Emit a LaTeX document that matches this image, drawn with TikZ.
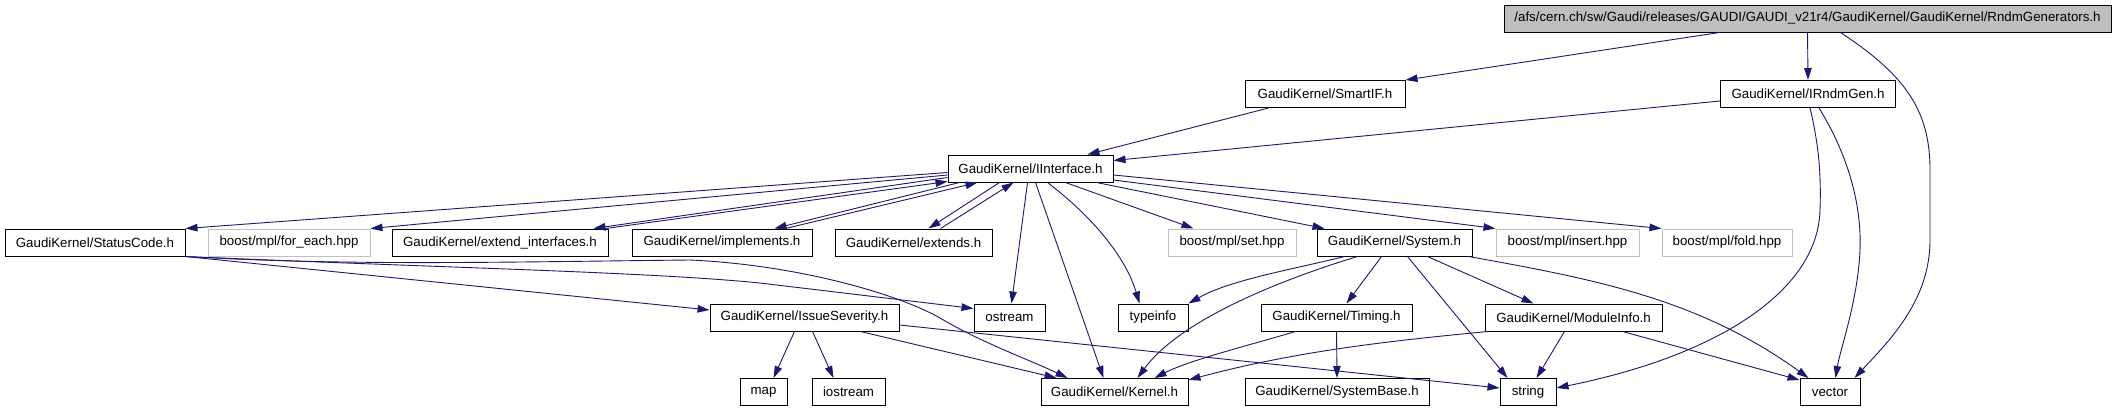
\documentclass[tikz,border=0pt]{standalone}
\usepackage{fontspec}
\setmainfont{Liberation Sans}
\usetikzlibrary{arrows.meta,calc}
\definecolor{edgeblue}{HTML}{191970}
\definecolor{grayb}{HTML}{BFBFBF}
\begin{document}
\begin{tikzpicture}[x=1pt,y=-1pt,
  box/.style={draw=black,line width=1pt,inner sep=0pt,minimum height=27pt,font=\fontsize{13.3}{15}\selectfont,anchor=center},
  extbox/.style={box,draw=grayb},
  rootbox/.style={box,fill=grayb},
  dep/.style={draw=edgeblue,line width=0.9pt,-{Triangle[length=12pt,width=7.5pt]}}]
\useasboundingbox[fill=white] (0,0) rectangle (2116,410);

% nodes
\node[rootbox,minimum width=607pt] (root) at (1807.5,18.5) {/afs/cern.ch/sw/Gaudi/releases/GAUDI/GAUDI\_v21r4/GaudiKernel/GaudiKernel/RndmGenerators.h};
\node[box,minimum width=160pt] (smartif) at (1325,94) {GaudiKernel/SmartIF.h};
\node[box,minimum width=175pt] (irndm) at (1808,94) {GaudiKernel/IRndmGen.h};
\node[box,minimum width=165pt] (iif) at (1030.5,168.5) {GaudiKernel/IInterface.h};

\node[box,minimum width=180pt] (status) at (95,242.5) {GaudiKernel/StatusCode.h};
\node[extbox,minimum width=162pt] (foreach) at (289,242.5) {boost/mpl/for\_each.hpp};
\node[box,minimum width=216pt] (extint) at (500,242.5) {GaudiKernel/extend\_interfaces.h};
\node[box,minimum width=180pt] (impl) at (722,242.5) {GaudiKernel/implements.h};
\node[box,minimum width=157pt] (extends) at (913.5,242.5) {GaudiKernel/extends.h};
\node[extbox,minimum width=128pt] (setp) at (1232,242.5) {boost/mpl/set.hpp};
\node[box,minimum width=155pt] (system) at (1394.5,242.5) {GaudiKernel/System.h};
\node[extbox,minimum width=143pt] (insert) at (1567.5,242.5) {boost/mpl/insert.hpp};
\node[extbox,minimum width=130pt] (fold) at (1727,242.5) {boost/mpl/fold.hpp};

\node[box,minimum width=189pt] (issue) at (804.5,317.5) {GaudiKernel/IssueSeverity.h};
\node[box,minimum width=71pt] (ostream) at (1009.5,317.5) {ostream};
\node[box,minimum width=70pt] (typeinfo) at (1153,317.5) {typeinfo};
\node[box,minimum width=151pt] (timing) at (1336.5,317.5) {GaudiKernel/Timing.h};
\node[box,minimum width=177pt] (module) at (1573.5,317.5) {GaudiKernel/ModuleInfo.h};

\node[box,minimum width=47pt] (map) at (763.5,392) {map};
\node[box,minimum width=73pt] (iostream) at (848.5,392) {iostream};
\node[box,minimum width=147pt] (kernel) at (1114.5,392) {GaudiKernel/Kernel.h};
\node[box,minimum width=184pt] (sysbase) at (1337,392) {GaudiKernel/SystemBase.h};
\node[box,minimum width=56pt] (string) at (1528,392) {string};
\node[box,minimum width=60pt] (vector) at (1830,392) {vector};

% edges from root
\draw[dep] ($(root.south west)+(216,0)$) -- (smartif.north east);
\draw[dep] (root.south) -- (irndm.north);
\draw[dep] ($(root.south west)+(337,0)$) .. controls (1905,75) and (1930,110) .. (1930,170) -- (1930,240) .. controls (1930,300) and (1890,340) .. ($(vector.north east)+(-6,0)$);

\draw[dep] ($(smartif.south west)+(24,0)$) -- ($(iif.north west)+(140,0)$);
\draw[dep] ($(irndm.west)+(0,7)$) -- ($(iif.east)+(0,-8)$);
\draw[dep] ($(irndm.south west)+(90,0)$) .. controls (1820,150) and (1821,180) .. (1820,210) .. controls (1818,290) and (1720,355) .. ($(string.east)+(0,-4)$);
\draw[dep] ($(irndm.south west)+(99,0)$) .. controls (1845,150) and (1862,200) .. (1860,250) .. controls (1858,300) and (1840,350) .. ($(vector.north west)+(36,0)$);

% IInterface
\draw[dep] ($(iif.west)+(0,4)$) -- (status.north east);
\draw[dep] ($(iif.west)+(0,6.5)$) -- (foreach.north east);
\draw[dep] ($(iif.west)+(0,9)$) -- ($(extint.north east)+(-15,0)$);
\draw[dep] ($(extint.north east)+(-3,0)$) -- ($(iif.south west)+(0,-1)$);
\draw[dep] ($(iif.south west)+(12,0)$) -- ($(impl.north west)+(143,0)$);
\draw[dep] ($(impl.north west)+(154,0)$) -- ($(iif.south west)+(30,0)$);
\draw[dep] ($(iif.south west)+(52,0)$) -- ($(extends.north west)+(94,0)$);
\draw[dep] ($(extends.north west)+(106,0)$) -- ($(iif.south west)+(66,0)$);
\draw[dep] ($(iif.south west)+(80,0)$) -- ($(ostream.north west)+(38,0)$);
\draw[dep] ($(iif.south west)+(88,0)$) -- ($(kernel.north west)+(63,0)$);
\draw[dep] ($(iif.south west)+(100,0)$) .. controls (1090,215) and (1125,255) .. ($(typeinfo.north west)+(22,0)$);
\draw[dep] ($(iif.south west)+(118,0)$) -- ($(setp.north west)+(26,0)$);
\draw[dep] ($(iif.south west)+(149,0)$) -- ($(system.north west)+(8,0)$);
\draw[dep] ($(iif.east)+(0,11.5)$) -- (insert.north west);
\draw[dep] ($(iif.east)+(0,6.5)$) -- (fold.north west);

% StatusCode
\draw[dep] (status.south east) -- ($(issue.west)+(0,-7.5)$);
\draw[dep] (status.south east) .. controls (450,268) and (650,272) .. (760,283) -- ($(ostream.west)+(0,-9)$);
\draw[dep] (status.south east) .. controls (350,266) and (500,262) .. (690,260) .. controls (800,265) and (900,295) .. (940,318) .. controls (980,342) and (1030,360) .. ($(kernel.north west)+(27,0)$);

% IssueSeverity
\draw[dep] ($(issue.south west)+(85,0)$) -- ($(map.north west)+(34,0)$);
\draw[dep] ($(issue.south west)+(103,0)$) -- ($(iostream.north west)+(22,0)$);
\draw[dep] ($(issue.south west)+(151,0)$) -- ($(kernel.north west)+(16,0)$);
\draw[dep] ($(issue.east)+(0,7.5)$) -- ($(string.west)+(0,-4)$);

% System
\draw[dep] ($(system.south west)+(28,0)$) .. controls (1290,270) and (1230,280) .. (typeinfo.north east);
\draw[dep] ($(system.south west)+(41,0)$) .. controls (1280,280) and (1180,320) .. ($(kernel.north west)+(97,0)$);
\draw[dep] ($(system.south west)+(65,0)$) -- ($(timing.north west)+(86,0)$);
\draw[dep] ($(system.south west)+(111,0)$) -- ($(module.north west)+(49,0)$);
\draw[dep] ($(system.south west)+(91,0)$) -- ($(string.north west)+(8,0)$);
\draw[dep] ($(system.south east)+(-4,0)$) .. controls (1600,280) and (1700,300) .. ($(vector.north west)+(9,0)$);

% Timing
\draw[dep] ($(timing.south west)+(35,0)$) .. controls (1250,345) and (1190,360) .. ($(kernel.north west)+(114,0)$);
\draw[dep] (timing.south) -- (sysbase.north);

% ModuleInfo
\draw[dep] ($(module.south west)+(3,0)$) .. controls (1400,340) and (1300,350) .. ($(kernel.east)+(0,-12)$);
\draw[dep] ($(module.south west)+(80,0)$) -- ($(string.north west)+(37,0)$);
\draw[dep] ($(module.south west)+(138,0)$) -- ($(vector.north west)+(0,2)$);
\end{tikzpicture}
\end{document}
